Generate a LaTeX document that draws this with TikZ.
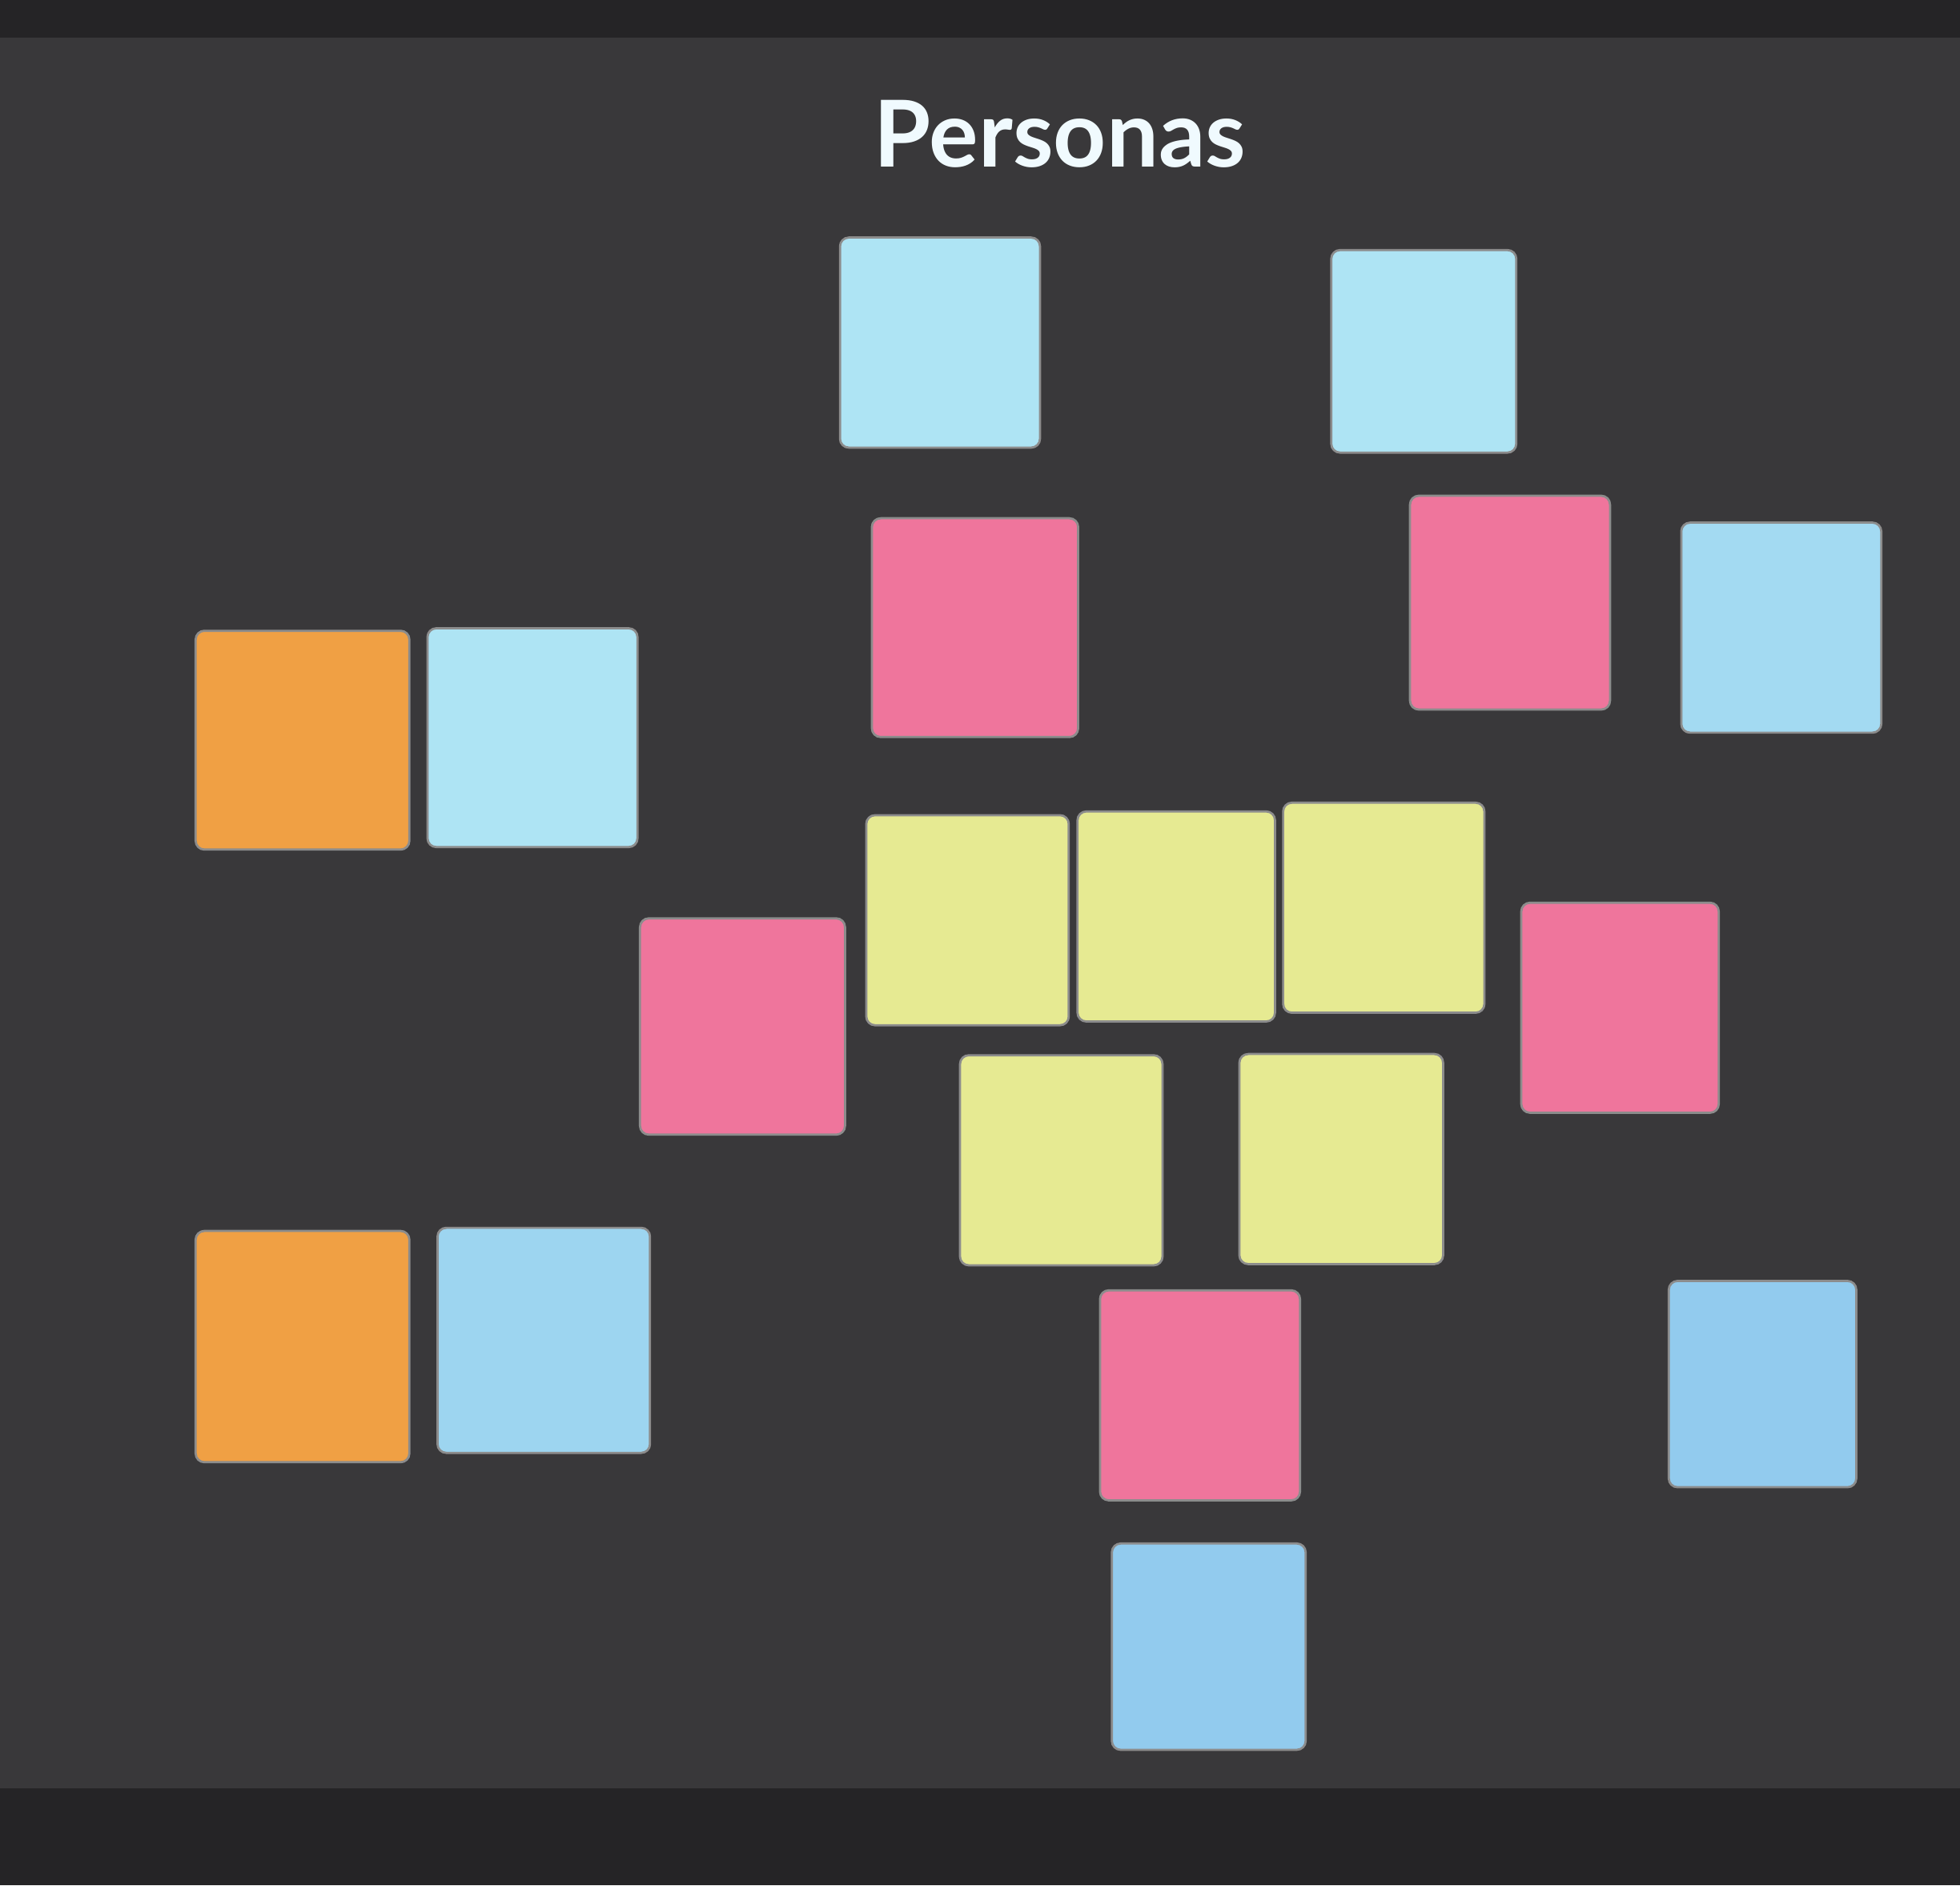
\documentclass[tikz,border=0pt]{standalone}
\usepackage{fontspec}
\setmainfont{Lato}
\usetikzlibrary{positioning}
\definecolor{wallbg}{HTML}{252426}
\definecolor{slidebg}{HTML}{39383A}
\definecolor{notecyan}{HTML}{AEE4F4}
\definecolor{noteblue}{HTML}{92CBEE}
\definecolor{notepink}{HTML}{EF759C}
\definecolor{noteorange}{HTML}{F0A044}
\definecolor{noteyellow}{HTML}{E6EA92}
\tikzset{
  note/.style       = {rectangle, rounded corners=2pt, draw=black!45, line width=0.5pt,
                        minimum width=1.6cm, minimum height=1.68cm, inner sep=0pt},
  cyannote/.style   = {note, fill=notecyan},
  bluenote/.style   = {note, fill=noteblue},
  pinknote/.style   = {note, fill=notepink},
  orangenote/.style = {note, fill=noteorange},
  yellownote/.style = {note, fill=noteyellow, minimum width=1.6cm},
  slidetitle/.style = {font=\fontsize{21}{25}\selectfont\bfseries, text=white!94!cyan},
}
\begin{document}
\begin{tikzpicture}
\useasboundingbox (0,0) rectangle (15.68,-15.08);
% wall and projected slide
\fill[wallbg] (0,0) rectangle (15.68,-15.08);
\fill[slidebg] (0,-0.3) rectangle (15.68,-14.3);
\node[slidetitle] (title) at (8.48,-1.07) {Personas};
% top row
\node[cyannote] (cyanA) at (7.52,-2.74) {};
\node[cyannote, minimum width=1.48cm, minimum height=1.62cm] (cyanB) at (11.39,-2.81) {};
% second row
\node[pinknote, minimum width=1.65cm, minimum height=1.75cm] (pinkA) at (7.80,-5.02) {};
\node[pinknote, minimum height=1.71cm] (pinkB) at (12.08,-4.82) {};
\node[bluenote, fill=notecyan!60!noteblue] (blueA) at (14.25,-5.02) {};
% left pair, upper
\node[orangenote, minimum width=1.71cm, minimum height=1.75cm] (orangeA) at (2.42,-5.92) {};
\node[cyannote, minimum width=1.68cm, minimum height=1.75cm] (cyanC) at (4.26,-5.90) {};
% centre cluster
\node[yellownote, minimum width=1.62cm] (yellowA) at (7.74,-7.36) {};
\node[yellownote, minimum width=1.58cm] (yellowB) at (9.41,-7.33) {};
\node[yellownote, minimum width=1.61cm] (yellowC) at (11.07,-7.26) {};
\node[pinknote, minimum width=1.64cm, minimum height=1.73cm] (pinkC) at (5.94,-8.21) {};
\node[pinknote, minimum width=1.58cm] (pinkD) at (12.96,-8.06) {};
\node[yellownote, minimum width=1.62cm] (yellowD) at (8.49,-9.28) {};
\node[yellownote, minimum width=1.63cm] (yellowE) at (10.73,-9.27) {};
% left pair, lower
\node[orangenote, minimum width=1.71cm, minimum height=1.85cm] (orangeB) at (2.42,-10.77) {};
\node[bluenote, fill=notecyan!40!noteblue, minimum width=1.70cm, minimum height=1.80cm] (blueB) at (4.35,-10.72) {};
% bottom
\node[pinknote, minimum width=1.60cm] (pinkE) at (9.60,-11.16) {};
\node[bluenote, minimum width=1.50cm, minimum height=1.65cm] (blueC) at (14.10,-11.07) {};
\node[bluenote, minimum width=1.55cm, minimum height=1.65cm] (blueD) at (9.67,-13.17) {};
\end{tikzpicture}
\end{document}
